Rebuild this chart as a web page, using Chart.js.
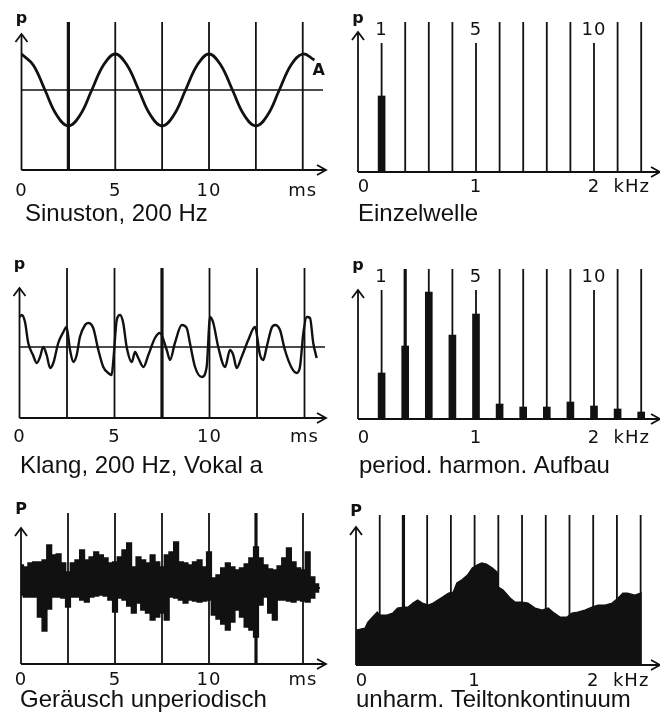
<!DOCTYPE html>
<html lang="de">
<head>
<meta charset="UTF-8">
<title>Sinuston, Klang, Geräusch</title>
<script src="https://cdn.jsdelivr.net/npm/chart.js@4.4.0/dist/chart.umd.min.js"></script>
<style>
  html, body { margin: 0; padding: 0; background: #fff; }
  #wrap { position: relative; width: 660px; height: 719px; overflow: hidden; }
  #wrap canvas { position: absolute; }
</style>
</head>
<body>
<div id="wrap">
  <canvas id="c1"></canvas>
  <canvas id="c2"></canvas>
  <canvas id="c3"></canvas>
  <canvas id="c4"></canvas>
  <canvas id="c5"></canvas>
  <canvas id="c6"></canvas>
</div>
<script>
// ---- data ----
// time panels (ms)
var timeLines = [2.5, 5, 7.5, 10, 12.5, 15];
var timeTicks = [0, 5, 10, 15];
var timeTickText = ['0', '5', '10', 'ms'];

// frequency panels (kHz), harmonics of 200 Hz
var harmonNo = [1, 2, 3, 4, 5, 6, 7, 8, 9, 10, 11, 12];
var harmonF = [0.2, 0.4, 0.6, 0.8, 1.0, 1.2, 1.4, 1.6, 1.8, 2.0, 2.2, 2.4];
var harmonMarked = [1, 5, 10];
var freqTicks = [0.05, 1, 2, 2.32];
var freqTickText = ['0', '1', '2', 'kHz'];

// Sinuston, 200 Hz
var sineT = [0, 0.625, 1.25, 1.875, 2.5, 3.125, 3.75, 4.375, 5, 5.625, 6.25, 6.875, 7.5,
  8.125, 8.75, 9.375, 10, 10.625, 11.25, 11.875, 12.5, 13.125, 13.75, 14.375, 15, 15.625];
var sineP = [36, 25, 0, -25, -36, -25, 0, 25, 36, 25, 0, -25, -36,
  -25, 0, 25, 36, 25, 0, -25, -36, -25, 0, 25, 36, 30];

// Einzelwelle
var einzelF = [0.2];
var einzelP = [76];

// Klang, 200 Hz, Vokal a
var klangT = [0, 0.12, 0.29, 0.46, 0.71, 0.91, 1.08, 1.25, 1.43, 1.61, 1.78, 2.04, 2.31, 2.48,
  2.66, 2.83, 3.01, 3.18, 3.45, 3.62, 3.88, 4.15, 4.41, 4.67, 4.85, 4.94, 5.12, 5.29, 5.46,
  5.64, 5.91, 6.08, 6.25, 6.52, 6.78, 7.13, 7.39, 7.75, 7.92, 8.18, 8.54, 8.80, 8.97, 9.24,
  9.59, 9.85, 10.03, 10.2, 10.46, 10.82, 11.08, 11.25, 11.43, 11.69, 12.04, 12.39, 12.66,
  12.83, 13.01, 13.27, 13.45, 13.71, 13.97, 14.33, 14.59, 14.76, 14.94, 15.12, 15.29, 15.46, 15.64];
var klangP = [30, 32, 25, 4, -8, -16, -10, 0, -8, -21, -16, 4, 15, 20,
  -3, -15, -8, 10, 22, 24, 19, -3, -20, -26, -28, -13, 27, 32, 24,
  0, -15, -5, -11, -20, -8, 9, 14, -3, -13, 4, 22, 19, 4, -20,
  -30, -20, 30, 24, 0, -20, -3, -8, -21, -10, 7, 20, -8,
  -13, 0, 19, 22, 17, -3, -21, -26, -20, 14, 30, 29, 4, -11];

// period. harmon. Aufbau
var harmonP = [46, 73, 127, 84, 105, 15, 12, 12, 17, 13, 10, 7];

// Geräusch unperiodisch: upper and lower edge of the trace
var noiseT = [0, 0.25, 0.5, 0.75, 1, 1.25, 1.5, 1.75, 2, 2.25, 2.5, 2.75, 3, 3.25, 3.5, 3.75,
  4, 4.25, 4.5, 4.75, 5, 5.25, 5.5, 5.75, 6, 6.25, 6.5, 6.75, 7, 7.25, 7.5, 7.75,
  8, 8.25, 8.5, 8.75, 9, 9.25, 9.5, 9.75, 10, 10.25, 10.5, 10.75, 11, 11.25, 11.5, 11.75,
  12, 12.25, 12.5, 12.75, 13, 13.25, 13.5, 13.75, 14, 14.25, 14.5, 14.75, 15, 15.25, 15.5, 15.75, 15.9];
var noiseHi = [99, 97, 101, 102, 102, 104, 119, 109, 110, 101, 92, 101, 104, 114, 104, 107,
  112, 109, 106, 101, 102, 107, 114, 121, 97, 107, 104, 101, 109, 102, 97, 109,
  112, 122, 102, 101, 99, 102, 104, 97, 112, 86, 89, 96, 101, 97, 94, 96,
  100, 106, 117, 106, 99, 95, 94, 98, 106, 116, 102, 96, 94, 112, 87, 80, 76];
var noiseLo = [69, 67, 67, 67, 47, 33, 55, 67, 67, 66, 57, 67, 67, 64, 62, 67,
  68, 69, 68, 64, 52, 66, 64, 58, 51, 61, 54, 51, 44, 47, 51, 44,
  67, 66, 64, 61, 64, 63, 62, 63, 64, 49, 45, 40, 34, 42, 54, 47,
  37, 34, 27, 59, 67, 51, 44, 64, 64, 63, 62, 64, 63, 62, 66, 72, 76];

// unharm. Teiltonkontinuum
var contF = [0, 0.076, 0.10, 0.14, 0.18, 0.20, 0.26, 0.31, 0.35, 0.40, 0.44, 0.48, 0.52, 0.56,
  0.61, 0.65, 0.69, 0.73, 0.78, 0.82, 0.85, 0.89, 0.94, 0.98, 1.02, 1.06, 1.10, 1.15, 1.19,
  1.20, 1.24, 1.30, 1.34, 1.40, 1.45, 1.51, 1.57, 1.62, 1.66, 1.72, 1.78, 1.82, 1.87, 1.93,
  1.99, 2.04, 2.10, 2.16, 2.21, 2.25, 2.29, 2.35, 2.40, 2.41];
var contP = [35, 37, 43, 48, 53, 50, 50, 52, 57, 58, 58, 62, 65, 62,
  60, 62, 65, 68, 72, 73, 82, 85, 90, 97, 100, 102, 101, 97, 93,
  78, 75, 67, 63, 63, 62, 57, 55, 57, 53, 48, 48, 52, 53, 55,
  58, 60, 60, 62, 67, 72, 72, 70, 72, 72];

// ---- drawing ----
var INK = '#111';
var TICK_FONT = '18px "DejaVu Sans", sans-serif';
var P_FONT = 'bold 16px "DejaVu Sans", sans-serif';
var TITLE_FONT = '24px "Liberation Sans", Arial, sans-serif';

function seg(ctx, x1, y1, x2, y2) {
  ctx.beginPath(); ctx.moveTo(x1, y1); ctx.lineTo(x2, y2); ctx.stroke();
}

var figure = {
  id: 'figure',
  beforeDatasetsDraw: function (chart, args, o) {
    var ctx = chart.ctx, a = chart.chartArea, x = chart.scales.x, y = chart.scales.y;
    ctx.save();
    ctx.strokeStyle = INK;
    o.lines.forEach(function (v, i) {
      var px = x.getPixelForValue(v);
      var top = a.top + (o.marked.indexOf(i + 1) >= 0 ? 21 : 0);
      ctx.lineWidth = o.thick.indexOf(v) >= 0 ? 3.2 : 1.8;
      seg(ctx, px, top, px, a.bottom);
    });
    if (o.zeroTo) {
      ctx.lineWidth = 1.6;
      var py = y.getPixelForValue(0);
      seg(ctx, x.getPixelForValue(0), py, o.zeroTo, py);
    }
    ctx.restore();
  },
  afterDatasetsDraw: function (chart, args, o) {
    var ctx = chart.ctx, a = chart.chartArea, x = chart.scales.x, y = chart.scales.y;
    var x0 = x.getPixelForValue(0), yb = a.bottom, tip = a.top + o.tip;
    ctx.save();
    ctx.strokeStyle = INK; ctx.fillStyle = INK; ctx.lineWidth = 1.8;
    // axes with arrow heads
    seg(ctx, x0, yb, o.xEnd, yb);
    ctx.beginPath(); ctx.moveTo(o.xEnd - 9, yb - 5); ctx.lineTo(o.xEnd, yb); ctx.lineTo(o.xEnd - 9, yb + 5); ctx.stroke();
    seg(ctx, x0, yb, x0, tip);
    ctx.beginPath(); ctx.moveTo(x0 - 6, tip + 8); ctx.lineTo(x0, tip); ctx.lineTo(x0 + 6, tip + 8); ctx.stroke();

    ctx.textAlign = 'center'; ctx.textBaseline = 'middle';
    ctx.font = P_FONT;
    ctx.fillText(o.p, x0, a.top - 3);
    ctx.font = TICK_FONT;
    ctx.letterSpacing = '1px';
    o.ticks.forEach(function (v, i) {
      ctx.fillText(o.tickText[i], x.getPixelForValue(v), yb + o.tickDy);
    });
    o.numbers.forEach(function (n) {
      ctx.fillText(String(n), x.getPixelForValue(harmonF[n - 1]), a.top + 8);
    });
    ctx.letterSpacing = '0px';
    if (o.mark) {
      ctx.font = 'bold 16px "DejaVu Sans", sans-serif';
      ctx.fillText(o.mark.text, x.getPixelForValue(o.mark.x), y.getPixelForValue(o.mark.y));
    }
    ctx.font = TITLE_FONT; ctx.textAlign = 'left'; ctx.textBaseline = 'alphabetic';
    ctx.fillText(o.title, o.titleX, o.titleY);
    ctx.restore();
  }
};

function pts(xs, ys) {
  return xs.map(function (v, i) { return { x: v, y: ys[i] }; });
}

function panel(id, g, type, datasets, deco) {
  var cv = document.getElementById(id);
  cv.width = 330; cv.height = g.h;
  cv.style.left = g.left + 'px'; cv.style.top = g.top + 'px';
  deco.marked = deco.marked || [];
  deco.numbers = deco.numbers || [];
  deco.thick = deco.thick || [];
  return new Chart(cv, {
    type: type,
    data: { datasets: datasets },
    options: {
      responsive: false, animation: false, devicePixelRatio: 1,
      layout: { padding: { left: g.padL, top: g.padT, bottom: g.padB, right: 330 - g.padL - g.xmax * g.px } },
      scales: {
        x: { type: 'linear', display: false, offset: false, min: 0, max: g.xmax },
        y: { type: 'linear', display: false, min: g.ymin, max: g.ymax }
      },
      plugins: { legend: { display: false }, tooltip: { enabled: false }, figure: deco }
    },
    plugins: [figure]
  });
}

var lineStyle = { borderColor: INK, pointRadius: 0, fill: false };

// Sinuston
panel('c1', { left: 0, top: 0, h: 240, padL: 21.5, padT: 22, padB: 70, px: 18.75, xmax: 16.3, ymin: -80, ymax: 68 },
  'line',
  [Object.assign({ data: pts(sineT, sineP), borderWidth: 2.8, tension: 0.4 }, lineStyle)],
  { lines: timeLines, thick: [2.5], zeroTo: 323, xEnd: 326, tip: 12, p: 'p',
    ticks: timeTicks, tickText: timeTickText, tickDy: 21,
    mark: { text: 'A', x: 15.85, y: 19 },
    title: 'Sinuston, 200 Hz', titleX: 25, titleY: 221 });

// Einzelwelle
panel('c2', { left: 330, top: 0, h: 240, padL: 28, padT: 22, padB: 68, px: 118, xmax: 2.55, ymin: 0, ymax: 150 },
  'bar',
  [{ data: pts(einzelF, einzelP), backgroundColor: INK, barThickness: 7 }],
  { lines: harmonF, marked: harmonMarked, numbers: harmonMarked, xEnd: 330, tip: 10, p: 'p',
    ticks: freqTicks, tickText: freqTickText, tickDy: 15,
    title: 'Einzelwelle', titleX: 28, titleY: 221 });

// Klang
panel('c3', { left: 0, top: 240, h: 240, padL: 19.5, padT: 28, padB: 62, px: 19, xmax: 16.2, ymin: -71, ymax: 79 },
  'line',
  [Object.assign({ data: pts(klangT, klangP), borderWidth: 2.4, cubicInterpolationMode: 'monotone' }, lineStyle)],
  { lines: timeLines, thick: [7.5], zeroTo: 325, xEnd: 326, tip: 20, p: 'p',
    ticks: timeTicks, tickText: timeTickText, tickDy: 19,
    title: 'Klang, 200 Hz, Vokal a', titleX: 20, titleY: 233 });

// period. harmon. Aufbau
panel('c4', { left: 330, top: 240, h: 240, padL: 28, padT: 29, padB: 61, px: 118, xmax: 2.55, ymin: 0, ymax: 150 },
  'bar',
  [{ data: pts(harmonF, harmonP), backgroundColor: INK, barThickness: 7 }],
  { lines: harmonF, thick: [0.4], marked: harmonMarked, numbers: harmonMarked, xEnd: 330, tip: 21, p: 'p',
    ticks: freqTicks, tickText: freqTickText, tickDy: 19,
    title: 'period. harmon. Aufbau', titleX: 29, titleY: 233 });

// Geräusch: band between lower and upper edge, drawn in steps
panel('c5', { left: 0, top: 480, h: 239, padL: 21, padT: 33, padB: 55, px: 18.8, xmax: 16.3, ymin: 0, ymax: 151 },
  'line',
  [{ data: pts(noiseT, noiseLo), borderColor: INK, borderWidth: 1.5, pointRadius: 0, fill: false, stepped: 'middle' },
   { data: pts(noiseT, noiseHi), borderColor: INK, backgroundColor: INK, borderWidth: 1.5, pointRadius: 0, fill: '-1', stepped: 'middle' }],
  { lines: timeLines, thick: [12.5], xEnd: 326, tip: 15, p: 'P',
    ticks: timeTicks, tickText: timeTickText, tickDy: 16,
    title: 'Geräusch unperiodisch', titleX: 20, titleY: 227 });

// unharm. Teiltonkontinuum
panel('c6', { left: 330, top: 480, h: 239, padL: 26, padT: 35, padB: 54, px: 118.6, xmax: 2.55, ymin: 0, ymax: 150 },
  'line',
  [{ data: pts(contF, contP), borderColor: INK, backgroundColor: INK, borderWidth: 1.2, pointRadius: 0, fill: 'origin' }],
  { lines: harmonF, thick: [0.4], xEnd: 330, tip: 12, p: 'P',
    ticks: freqTicks, tickText: freqTickText, tickDy: 16,
    title: 'unharm. Teiltonkontinuum', titleX: 26, titleY: 227 });
</script>
</body>
</html>
